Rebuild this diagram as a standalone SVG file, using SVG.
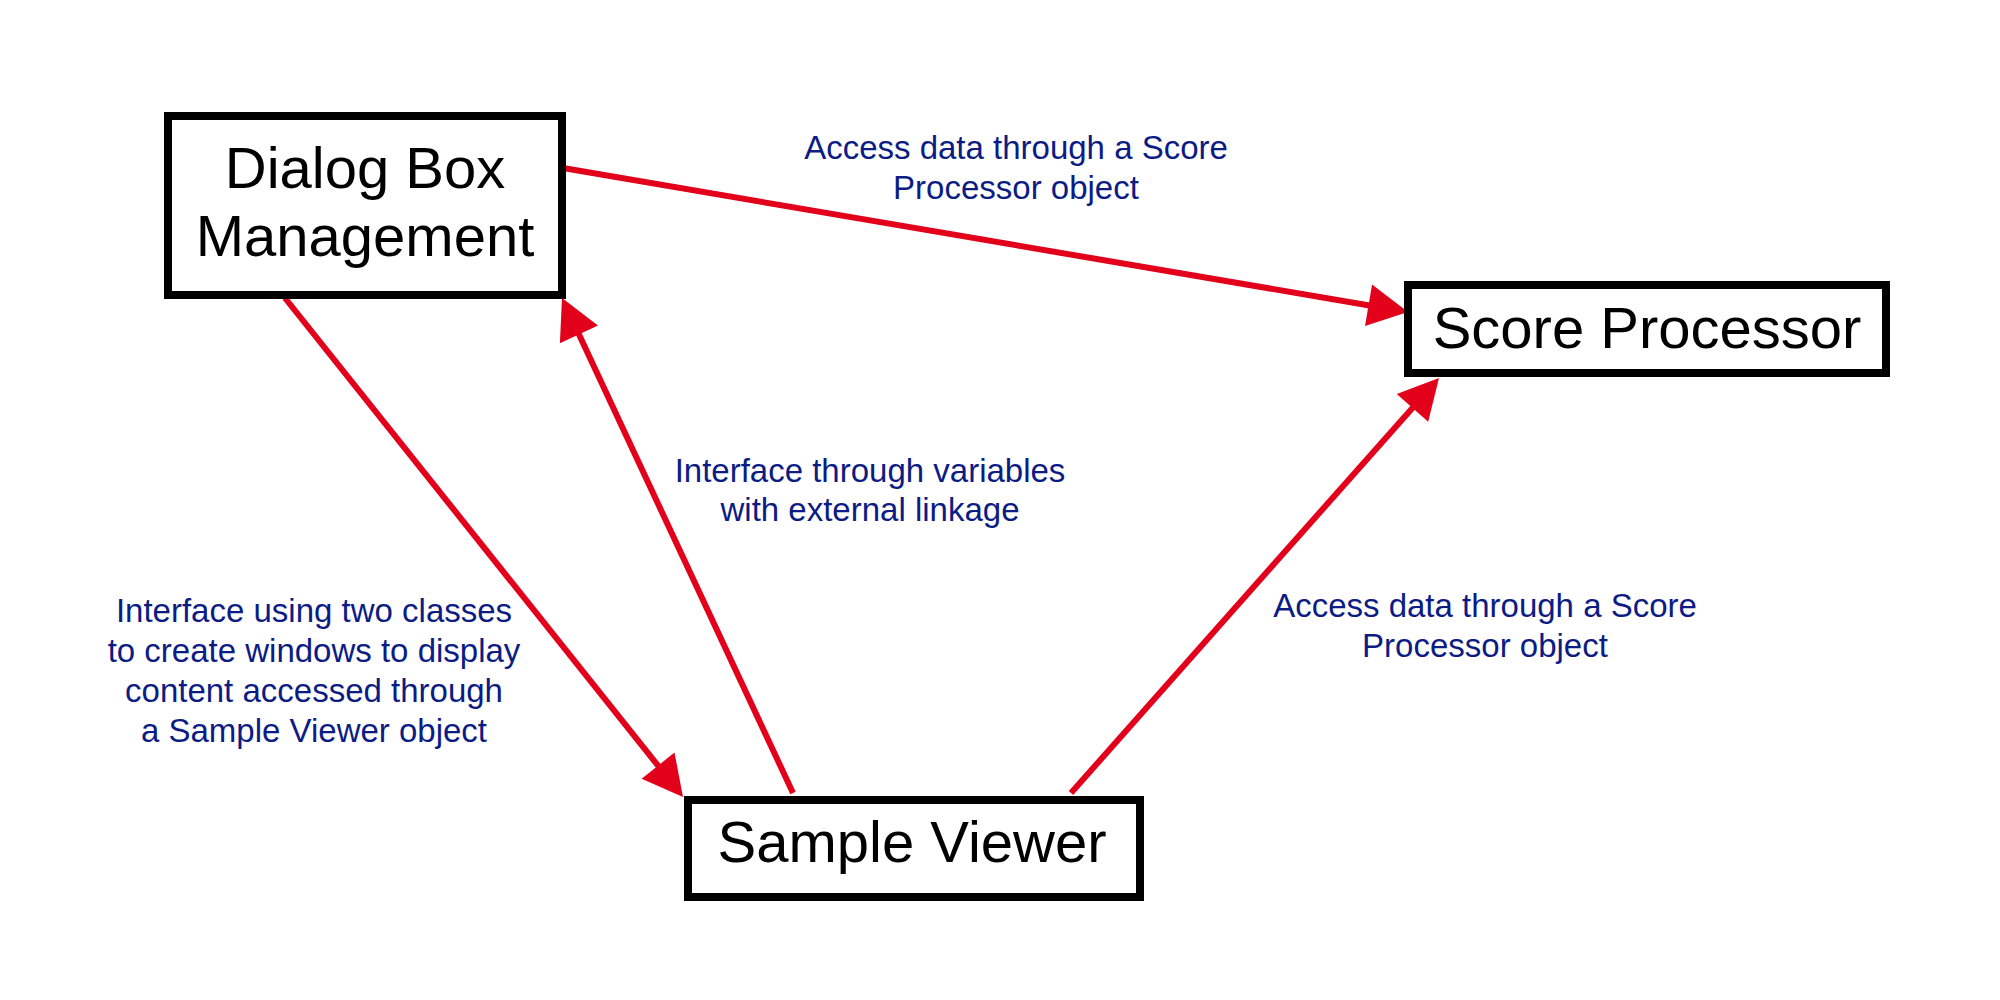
<svg xmlns="http://www.w3.org/2000/svg" width="2000" height="1000" viewBox="0 0 2000 1000">
<style>
.box{fill:#fff;stroke:#000;stroke-width:8}
.nt{font-family:"Liberation Sans",Arial,sans-serif;font-size:58px;fill:#000;text-anchor:middle}
.lb{font-family:"Liberation Sans",Arial,sans-serif;font-size:33px;fill:#0c1c84;text-anchor:middle}
.cn{stroke:#e2001a;stroke-width:6;fill:none;marker-end:url(#ah)}
</style>
<defs>
<marker id="ah" markerUnits="userSpaceOnUse" markerWidth="40" markerHeight="42" refX="10" refY="21" orient="auto" overflow="visible">
<path d="M0,0 L40,21 L0,42 Z" fill="#e2001a"/>
</marker>
</defs>
<rect width="2000" height="1000" fill="#fff"/>
<g id="connectors">
<line class="cn" x1="563" y1="168" x2="1378.4" y2="307"/>
<line class="cn" x1="285" y1="298" x2="664.3" y2="773.5"/>
<line class="cn" x1="793" y1="793" x2="574.7" y2="325.2"/>
<line class="cn" x1="1071" y1="793" x2="1419.1" y2="400.4"/>
</g>
<g id="dialog-box-management">
<rect class="box" x="168" y="116" width="394" height="179"/>
<text class="nt" x="365" y="188">Dialog Box</text>
<text class="nt" x="365" y="256">Management</text>
</g>
<g id="score-processor">
<rect class="box" x="1408" y="285" width="478" height="88"/>
<text class="nt" x="1647" y="348">Score Processor</text>
</g>
<g id="sample-viewer">
<rect class="box" x="688" y="800" width="452" height="97"/>
<text class="nt" x="912" y="862">Sample Viewer</text>
</g>
<g id="labels">
<text class="lb" x="1016" y="159">Access data through a Score</text>
<text class="lb" x="1016" y="199">Processor object</text>
<text class="lb" x="870" y="482">Interface through variables</text>
<text class="lb" x="870" y="521">with external linkage</text>
<text class="lb" x="314" y="622">Interface using two classes</text>
<text class="lb" x="314" y="662">to create windows to display</text>
<text class="lb" x="314" y="702">content accessed through</text>
<text class="lb" x="314" y="742">a Sample Viewer object</text>
<text class="lb" x="1485" y="617">Access data through a Score</text>
<text class="lb" x="1485" y="657">Processor object</text>
</g>
</svg>
